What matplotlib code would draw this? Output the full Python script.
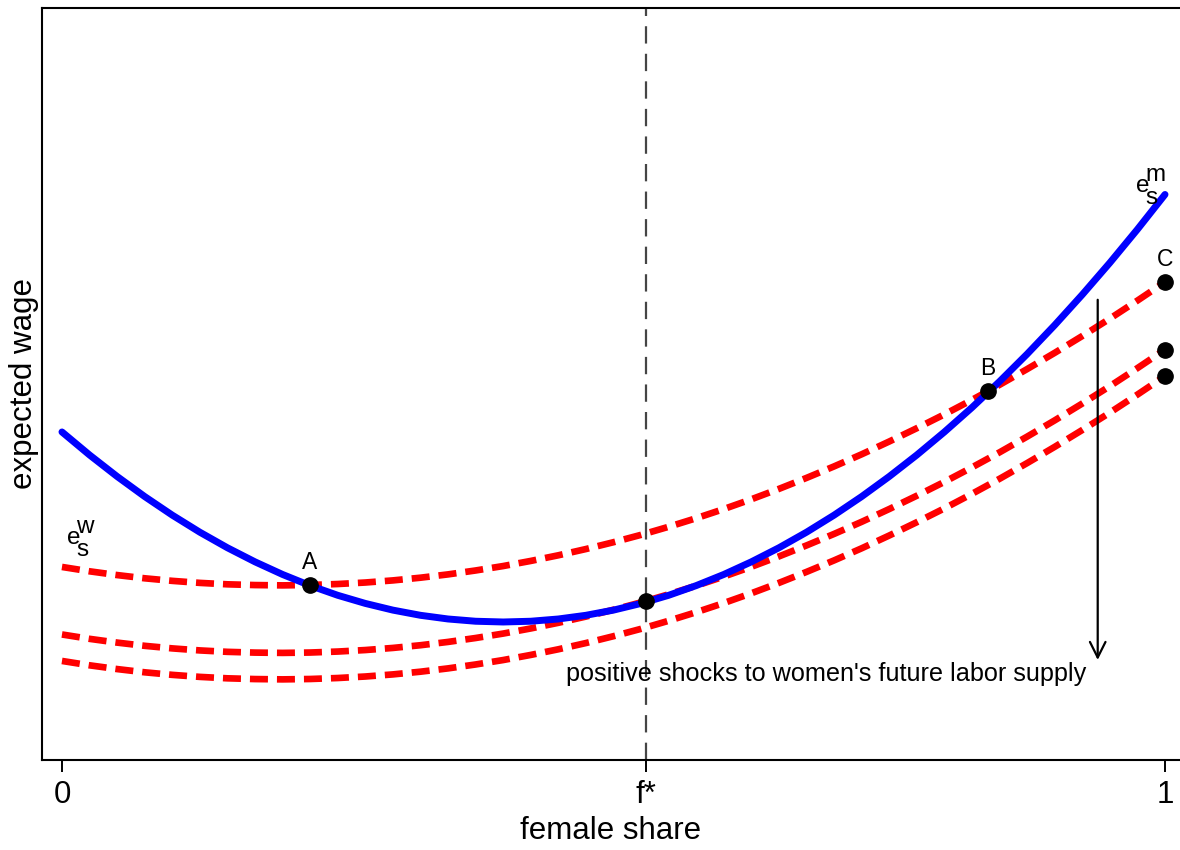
import matplotlib
matplotlib.use("Agg")
import matplotlib.pyplot as plt

plt.rcParams['font.family'] = ['Liberation Sans', 'DejaVu Sans']

# female share grid
share = [0.000, 0.025, 0.050, 0.075, 0.100, 0.125, 0.150, 0.175, 0.200, 0.225,
         0.250, 0.275, 0.300, 0.325, 0.350, 0.375, 0.400, 0.425, 0.450, 0.475,
         0.500, 0.525, 0.550, 0.575, 0.600, 0.625, 0.650, 0.675, 0.700, 0.725,
         0.750, 0.775, 0.800, 0.825, 0.850, 0.875, 0.900, 0.925, 0.950, 0.975, 1.000]

# expected wage of men, e_s^m
wage_men = [43.62, 40.56, 37.70, 35.03, 32.56, 30.29, 28.22, 26.35, 24.67, 23.19,
            21.90, 20.82, 19.93, 19.24, 18.75, 18.45, 18.35, 18.45, 18.75, 19.24,
            19.93, 20.82, 21.90, 23.19, 24.67, 26.35, 28.22, 30.29, 32.56, 35.03,
            37.70, 40.56, 43.62, 46.87, 50.33, 53.98, 57.83, 61.88, 66.12, 70.56, 75.20]

# expected wage of women, e_s^w, before and after labor supply shocks
wage_women_high = [25.67, 25.09, 24.59, 24.16, 23.82, 23.55, 23.36, 23.26, 23.22, 23.27,
                   23.40, 23.60, 23.88, 24.24, 24.68, 25.20, 25.79, 26.47, 27.22, 28.05,
                   28.96, 29.94, 31.01, 32.15, 33.37, 34.67, 36.05, 37.51, 39.04, 40.65,
                   42.35, 44.12, 45.96, 47.89, 49.89, 51.98, 54.14, 56.38, 58.69, 61.09, 63.56]
wage_women_mid = [16.69, 16.11, 15.61, 15.18, 14.84, 14.57, 14.38, 14.28, 14.24, 14.29,
                  14.42, 14.62, 14.90, 15.26, 15.70, 16.22, 16.81, 17.49, 18.24, 19.07,
                  19.98, 20.96, 22.03, 23.17, 24.39, 25.69, 27.07, 28.53, 30.06, 31.67,
                  33.37, 35.14, 36.98, 38.91, 40.91, 43.00, 45.16, 47.40, 49.71, 52.11, 54.58]
wage_women_low = [13.17, 12.59, 12.09, 11.66, 11.32, 11.05, 10.86, 10.76, 10.72, 10.77,
                  10.90, 11.10, 11.38, 11.74, 12.18, 12.70, 13.29, 13.97, 14.72, 15.55,
                  16.46, 17.44, 18.51, 19.65, 20.87, 22.17, 23.55, 25.01, 26.54, 28.15,
                  29.85, 31.62, 33.46, 35.39, 37.39, 39.48, 41.64, 43.88, 46.19, 48.59, 51.06]

f_star = 0.5295

# equilibrium points
point_x = [0.2248, 0.5295, 0.8395, 1.0, 1.0, 1.0]
point_y = [23.27, 21.14, 49.07, 63.56, 54.58, 51.06]
point_labels = ["A", "", "B", "C", "", ""]

tick_pos = [0, f_star, 1]
tick_labels = ["0", "f*", "1"]

# shock arrow
arrow_x = 0.939
arrow_from = 61.2
arrow_to = 13.3

fig = plt.figure(figsize=(11.8, 8.5), dpi=100)
ax = fig.add_axes([0.0356, 0.1059, 1 - 0.0356, 0.9906 - 0.1059])

ax.axvline(f_star, color="#454545", lw=1.6, dashes=(7.8, 4.6), zorder=1)

red_kw = dict(color="#ff0000", lw=4.8, dashes=(2.7, 1.35), dash_capstyle="butt",
              dash_joinstyle="round", zorder=2)
ax.plot(share, wage_women_high, **red_kw)
ax.plot(share, wage_women_mid, **red_kw)
ax.plot(share, wage_women_low, **red_kw)
ax.plot(share, wage_men, color="#0000ff", lw=5.0, solid_capstyle="round",
        solid_joinstyle="round", zorder=3)

ax.plot(point_x, point_y, "o", color="black", ms=11, zorder=5)
for x, y, lab in zip(point_x, point_y, point_labels):
    if lab:
        ax.annotate(lab, (x, y), xytext=(0, 8), textcoords="offset points",
                    ha="center", va="bottom", fontsize=16.5)

# curve labels e_s^w and e_s^m
def curve_label(x, y, sup):
    ax.annotate("e", (x, y), xytext=(0, 0), textcoords="offset points",
                ha="left", va="baseline", fontsize=17.5)
    ax.annotate("s", (x, y), xytext=(6.5, -8.5), textcoords="offset points",
                ha="left", va="baseline", fontsize=17.5)
    ax.annotate(sup, (x, y), xytext=(6.5, 8), textcoords="offset points",
                ha="left", va="baseline", fontsize=17.5)

curve_label(0.0045, 28.7, "w")
curve_label(0.9740, 75.5, "m")

ax.annotate("", xy=(arrow_x, arrow_to), xytext=(arrow_x, arrow_from),
            arrowprops=dict(arrowstyle="->", color="black", lw=1.6,
                            mutation_scale=28, shrinkA=0, shrinkB=0))
ax.text(0.693, 11.5, "positive shocks to women's future labor supply",
        ha="center", va="center", fontsize=18.2)

ax.set_xlim(-0.0181, 1.0136)
ax.set_ylim(0, 100)
ax.set_xticks(tick_pos)
ax.set_xticklabels(tick_labels, fontsize=22.5)
ax.set_yticks([])
ax.tick_params(axis="x", direction="out", length=8.6, width=1.4, pad=6)
ax.spines["right"].set_visible(False)
for s in ["left", "bottom", "top"]:
    ax.spines[s].set_linewidth(1.5)
ax.set_xlabel("female share", fontsize=22.5, labelpad=4)
ax.set_ylabel("expected wage", fontsize=22.5, labelpad=2)

fig.savefig("out.png", dpi=100)
